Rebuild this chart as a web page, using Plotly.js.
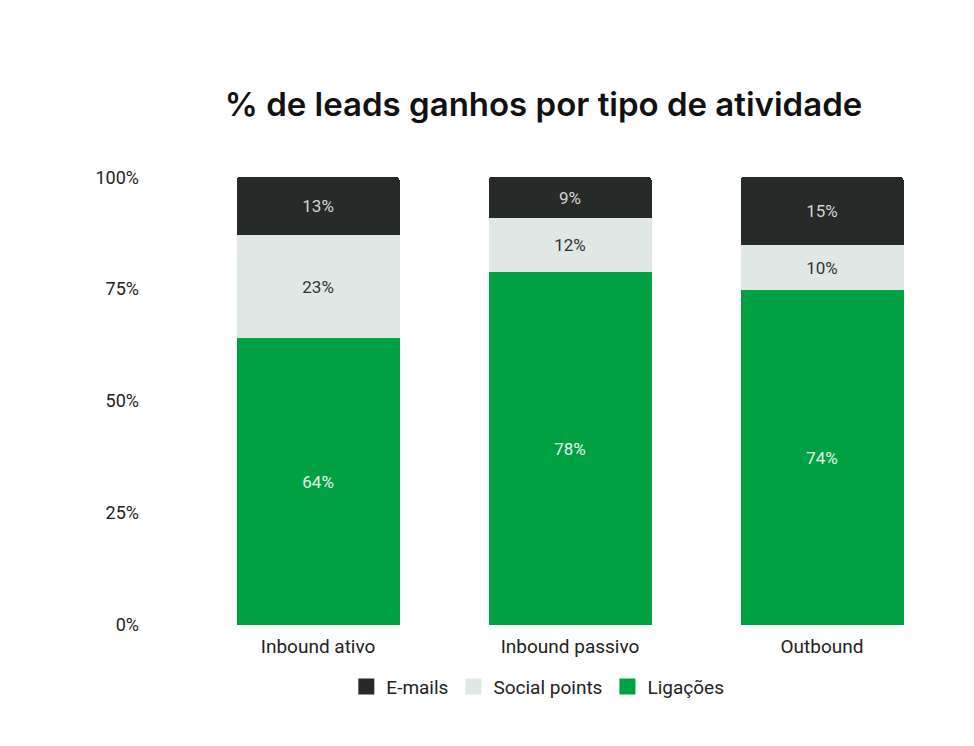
<!DOCTYPE html>
<html>
<head>
<meta charset="utf-8">
<script src="https://cdn.plot.ly/plotly-3.0.1.min.js"></script>
<style>html,body{margin:0;padding:0;background:#fff;}#chart{width:974px;height:746px;}</style>
</head>
<body>
<div id="chart"></div>
<script>
const categories = ["Inbound ativo", "Inbound passivo", "Outbound"];
const ligacoes = [64, 78, 74];
const socialPoints = [23, 12, 10];
const emails = [13, 9, 15];
const tickVals = [0, 25, 50, 75, 100];
const tickLabels = ["0%", "25%", "50%", "75%", "100%"];

const seriesNames = ["E-mails", "Social points", "Ligações"];
const seriesColors = ["#262a29", "#dfe8e5", "#00a142"];

const pct = a => a.map(v => v + "%");
const common = {type: "bar", x: categories, textposition: "inside", insidetextanchor: "middle",
  textangle: 0, hoverinfo: "skip", cliponaxis: false, showlegend: false, constraintext: "none"};

const traces = [
  Object.assign({}, common, {name: "Ligações", y: ligacoes, text: pct(ligacoes),
    marker: {color: "#00a142"}, textfont: {family: "Roboto", size: 17, color: "#e8f5ec"}}),
  Object.assign({}, common, {name: "Social points", y: socialPoints, text: pct(socialPoints),
    marker: {color: "#dfe8e5"}, textfont: {family: "Roboto", size: 17, color: "#333333"}}),
  Object.assign({}, common, {name: "E-mails", y: emails, text: pct(emails),
    marker: {color: "#262a29"}, textfont: {family: "Roboto", size: 17, color: "#d4d4d4"}})
];

// legend entries (square swatches)
seriesNames.forEach((n, i) => {
  traces.push({type: "scatter", mode: "markers", x: [null], y: [null], name: n,
    marker: {symbol: "square", size: 16, color: seriesColors[i]}, hoverinfo: "skip", showlegend: true});
});

const layout = {
  width: 974, height: 746,
  paper_bgcolor: "#ffffff", plot_bgcolor: "#ffffff",
  margin: {l: 150, r: 26, t: 177, b: 121},
  barmode: "stack", barnorm: "percent", bargap: 0.353, barcornerradius: 3,
  title: {text: "% de leads ganhos por tipo de atividade", x: 0.558, xanchor: "center",
    y: 0.86, yanchor: "middle", yref: "container",
    font: {family: "Inter", size: 33, color: "#111111", weight: 600}},
  xaxis: {range: [-0.667, 2.5], showgrid: false, zeroline: false, showline: false, ticks: "",
    ticklabelstandoff: 8,
    tickfont: {family: "Roboto", size: 19, color: "#222222"}, fixedrange: true},
  yaxis: {range: [0, 100.05], tickvals: tickVals, ticktext: tickLabels, showgrid: false, zeroline: false,
    showline: false, ticks: "", ticklabelstandoff: 10,
    tickfont: {family: "Roboto", size: 18, color: "#222222"}, fixedrange: true},
  legend: {orientation: "h", x: 0.486, xanchor: "center", y: -0.095, yanchor: "top",
    traceorder: "normal", font: {family: "Roboto", size: 19, color: "#222222"}, itemsizing: "trace"},
  showlegend: true
};

Plotly.newPlot("chart", traces, layout, {displayModeBar: false, staticPlot: true});
</script>
</body>
</html>
